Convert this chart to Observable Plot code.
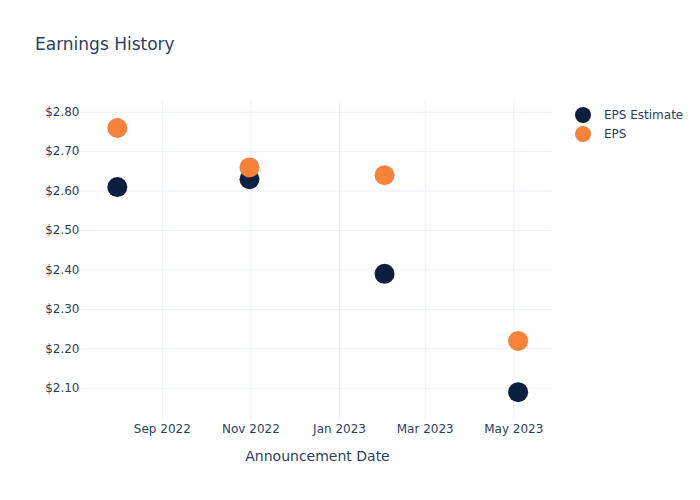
<!DOCTYPE html>
<html>
<head>
<meta charset="utf-8">
<script src="https://cdn.jsdelivr.net/npm/d3@7"></script>
<script src="https://cdn.jsdelivr.net/npm/@observablehq/plot@0.6"></script>
<style>
  html, body { margin: 0; padding: 0; background: #fff; }
  #wrap { position: relative; width: 700px; height: 500px; font-family: "DejaVu Sans", sans-serif; color: #2a3f5f; }
  #title { position: absolute; left: 35px; top: 34px; font-size: 17px; line-height: 20px; white-space: nowrap; }
  #legend { position: absolute; left: 575px; top: 105px; font-size: 12px; }
  .item { display: flex; align-items: center; height: 19px; white-space: nowrap; }
  .sw { width: 16px; height: 16px; border-radius: 50%; margin-right: 13px; }
  svg { display: block; }
</style>
</head>
<body>
<div id="wrap">
  <div id="chart"></div>
  <div id="title">Earnings History</div>
  <div id="legend"></div>
</div>
<script>
const dates = ["2022-08-01", "2022-10-31", "2023-02-01", "2023-05-04"];
const epsEstimate = [2.61, 2.63, 2.39, 2.09];
const epsActual = [2.76, 2.66, 2.64, 2.22];
const seriesNames = ["EPS Estimate", "EPS"];
const seriesColors = ["#0b1f41", "#f7823a"];
const xTickDates = ["2022-09-01", "2022-11-01", "2023-01-01", "2023-03-01", "2023-05-01"];
const xTickLabels = ["Sep 2022", "Nov 2022", "Jan 2023", "Mar 2023", "May 2023"];
const yTicks = [2.1, 2.2, 2.3, 2.4, 2.5, 2.6, 2.7, 2.8];

const rows = dates.map((d, i) => ({date: new Date(d), estimate: epsEstimate[i], eps: epsActual[i]}));
const xTicks = xTickDates.map(d => new Date(d));
const labelMap = new Map(xTicks.map((d, i) => [+d, xTickLabels[i]]));
const grid = "#ebf0f8";

const chart = Plot.plot({
  width: 700,
  height: 500,
  marginLeft: 81,
  marginRight: 147,
  marginTop: 100,
  marginBottom: 81,
  style: {fontFamily: "DejaVu Sans, sans-serif", fontSize: "12px", color: "#2a3f5f", background: "white", overflow: "visible"},
  x: {
    type: "utc",
    domain: [new Date("2022-07-07T08:00:00Z"), new Date("2023-05-28T08:00:00Z")],
    ticks: xTicks,
    tickFormat: d => labelMap.get(+d),
    tickSize: 0,
    tickPadding: 5,
    label: null
  },
  y: {
    domain: [2.0206, 2.8297],
    ticks: yTicks,
    tickFormat: d => "$" + d.toFixed(2),
    tickSize: 0,
    tickPadding: 2,
    label: null
  },
  marks: [
    Plot.gridX(xTicks, {stroke: grid, strokeOpacity: 1}),
    Plot.gridY(yTicks, {stroke: grid, strokeOpacity: 1}),
    Plot.axisX({ticks: xTicks, tickFormat: d => labelMap.get(+d), tickSize: 0, tickPadding: 5, label: "Announcement Date", labelAnchor: "center", labelOffset: 41, labelArrow: "none", fontSize: 12}),
    Plot.axisY({ticks: yTicks, tickFormat: d => "$" + d.toFixed(2), tickSize: 0, tickPadding: 2, label: null}),
    Plot.dot(rows, {x: "date", y: "estimate", r: 10, fill: seriesColors[0], stroke: "none"}),
    Plot.dot(rows, {x: "date", y: "eps", r: 10, fill: seriesColors[1], stroke: "none"})
  ]
});
document.getElementById("chart").appendChild(chart);
chart.querySelectorAll("g[aria-label='x-axis label'] text, g[aria-label='x-axis label']").forEach(el => el.setAttribute("font-size", "14"));

const legend = document.getElementById("legend");
seriesNames.forEach((name, i) => {
  const item = document.createElement("div");
  item.className = "item";
  const sw = document.createElement("div");
  sw.className = "sw";
  sw.style.background = seriesColors[i];
  const t = document.createElement("span");
  t.textContent = name;
  item.appendChild(sw);
  item.appendChild(t);
  legend.appendChild(item);
});
</script>
</body>
</html>
